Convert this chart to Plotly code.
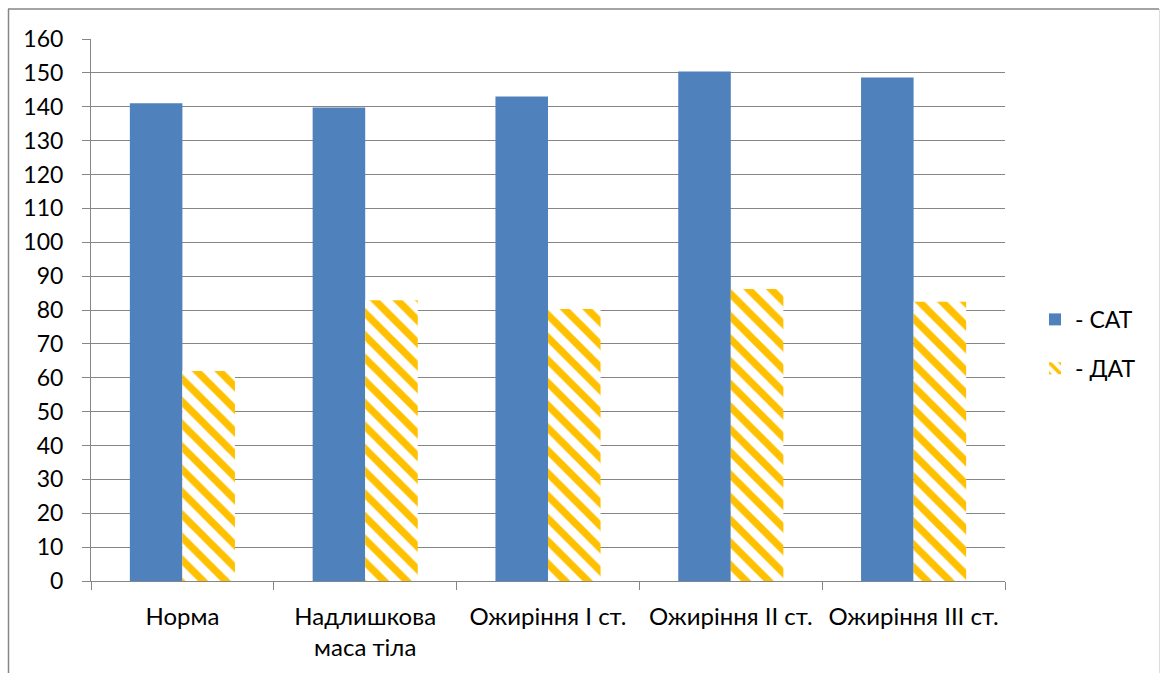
import plotly.graph_objects as go

categories = ["Норма", "Надлишкова<br>маса тіла", "Ожиріння I ст.", "Ожиріння II ст.", "Ожиріння III ст."]
sat_values = [141.0, 139.8, 143.0, 150.4, 148.6]
dat_values = [62.0, 82.9, 80.3, 86.2, 82.4]
y_ticks = list(range(0, 161, 10))

W, H = 1160, 673
L, R, T, B = 91, 1005, 38.5, 581.5
pw, ph = R - L, B - T

fig = go.Figure()
fig.add_trace(go.Bar(
    x=categories, y=sat_values, name="- САТ",
    marker=dict(color="#4F81BD", line=dict(width=0)),
    legendgroup="a",
))
fig.add_trace(go.Bar(
    x=categories, y=dat_values, name="- ДАТ",
    marker=dict(color="white", line=dict(width=0),
                pattern=dict(shape="\\", fgcolor="#FFC000", bgcolor="white",
                             fgopacity=1, size=16, solidity=0.45, fillmode="overlay")),
    legendgroup="b",
))

font = dict(family="Lato, 'Open Sans', sans-serif", size=23, color="black")
xfont = dict(family="Lato, 'Open Sans', sans-serif", size=24, color="black")

fig.update_layout(
    width=W, height=H,
    margin=dict(l=L, r=W - R, t=T, b=H - B, pad=0),
    paper_bgcolor="white", plot_bgcolor="white",
    barmode="group", bargap=0.425, bargroupgap=0,
    font=font,
    showlegend=True,
    legend=dict(x=(1035 - L) / pw, y=1 - (344 - T) / ph, xanchor="left", yanchor="middle",
                font=dict(size=23), tracegroupgap=16, traceorder="grouped",
                itemwidth=30, bgcolor="rgba(0,0,0,0)"),
    xaxis=dict(
        showline=True, linecolor="#868686", linewidth=1,
        ticks="outside", ticklen=8, tickcolor="#868686", tickson="boundaries",
        showgrid=False, tickfont=xfont, ticklabelstandoff=14,
    ),
    yaxis=dict(
        range=[0, 160], tickvals=y_ticks, ticktext=[str(v) for v in y_ticks],
        showline=True, linecolor="#868686", linewidth=1,
        ticks="outside", ticklen=8, tickcolor="#868686",
        showgrid=True, gridcolor="#868686", gridwidth=1,
        zeroline=False, tickfont=font, ticklabelstandoff=14,
    ),
    shapes=[
        dict(type="line", xref="paper", yref="paper",
             x0=(8 - L) / pw, x1=(1159 - L) / pw,
             y0=1 + (T - 8.5) / ph, y1=1 + (T - 8.5) / ph,
             line=dict(color="#868686", width=1.5)),
        dict(type="line", xref="paper", yref="paper",
             x0=(8.5 - L) / pw, x1=(8.5 - L) / pw,
             y0=1 + (T - 8.5) / ph, y1=-(H - B + 20) / ph,
             line=dict(color="#868686", width=1.5)),
        dict(type="line", xref="paper", yref="paper",
             x0=(1159.5 - L) / pw, x1=(1159.5 - L) / pw,
             y0=1 + (T - 8.5) / ph, y1=-(H - B + 20) / ph,
             line=dict(color="#DDDDDD", width=1)),
    ],
)

fig.write_html("out.html")
